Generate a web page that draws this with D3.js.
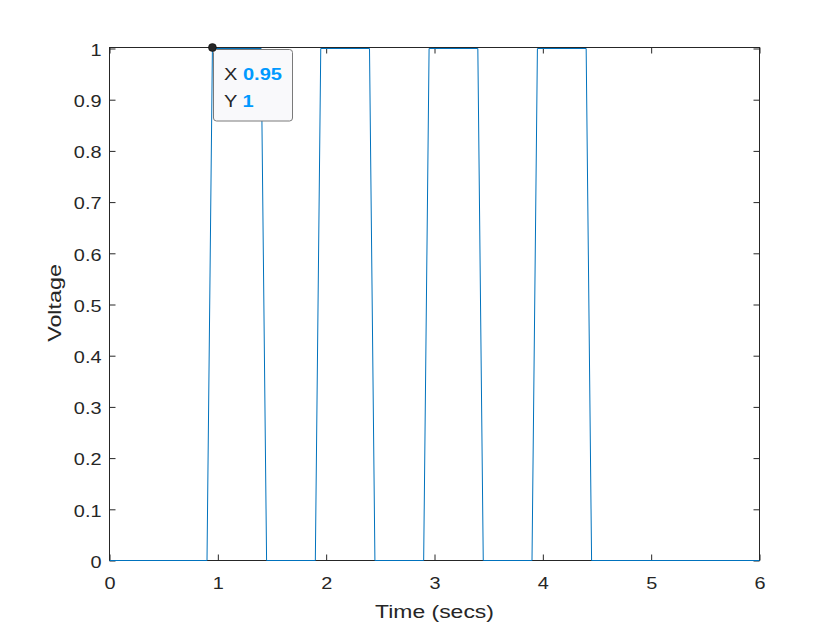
<!DOCTYPE html>
<html>
<head>
<meta charset="utf-8">
<script src="https://cdn.jsdelivr.net/npm/d3@7"></script>
<style>
  html, body { margin: 0; padding: 0; background: #ffffff; }
  svg { display: block; font-family: "Liberation Sans", Arial, Helvetica, sans-serif; }
</style>
</head>
<body>
<svg id="chart" width="840" height="630"></svg>
<script>
// ---- data ----
const timeSecs = [0, 0.9, 0.95, 1.4, 1.45, 1.9, 1.95, 2.4, 2.45, 2.9, 2.95, 3.4, 3.45, 3.9, 3.95, 4.4, 4.45, 6];
const voltage  = [0, 0,   1,    1,   0,    0,   1,    1,   0,    0,   1,    1,   0,    0,   1,    1,   0,    0];
const xTickValues = [0, 1, 2, 3, 4, 5, 6];
const yTickValues = [0, 0.1, 0.2, 0.3, 0.4, 0.5, 0.6, 0.7, 0.8, 0.9, 1];
const xLabel = "Time (secs)";
const yLabel = "Voltage";
const tipPoint = { x: 0.95, y: 1 };
const tipLabels = ["X", "Y"];
const tipValues = ["0.95", "1"];

// ---- layout ----
const svg = d3.select("#chart");
const L = 109.5, R = 759.5, T = 47.5, B = 560.5;
const x = d3.scaleLinear().domain([0, 6]).range([L, R]);
const y = d3.scaleLinear().domain([0, 1]).range([B, T + 1]);
const axisColor = "#262626";
const SX = 1.22; // horizontal glyph stretch

// box
svg.append("rect")
  .attr("x", L).attr("y", T).attr("width", R - L).attr("height", B - T)
  .attr("fill", "none").attr("stroke", axisColor).attr("stroke-width", 1);

// axes
function styleAxis(g, showLabels, anchorShift) {
  g.select(".domain").remove();
  g.selectAll(".tick line").attr("stroke", axisColor).attr("stroke-width", 1);
  if (!showLabels) { g.selectAll(".tick text").remove(); return; }
  g.selectAll(".tick text").each(function () {
    const t = d3.select(this);
    const tx = +t.attr("x") || 0, ty = +t.attr("y") || 0;
    t.attr("x", null).attr("y", null)
      .attr("transform", `translate(${tx},${ty}) scale(${SX},1)`)
      .attr("fill", axisColor).attr("font-size", 16.3)
      .attr("font-family", '"Liberation Sans", Arial, Helvetica, sans-serif');
  });
}
const fmt = d3.format("~g");

svg.append("g").attr("transform", `translate(0,${T})`)
  .call(d3.axisTop(x).tickValues(xTickValues).tickSize(-6))
  .call(g => styleAxis(g, false));
svg.append("g").attr("transform", `translate(${R},0)`)
  .call(d3.axisRight(y).tickValues(yTickValues).tickSize(-6))
  .call(g => styleAxis(g, false));
svg.append("g").attr("transform", `translate(0,${B})`)
  .call(d3.axisBottom(x).tickValues(xTickValues).tickFormat(fmt).tickSize(-6).tickPadding(16.5))
  .call(g => styleAxis(g, true));
const yAx = svg.append("g").attr("transform", `translate(${L},0)`)
  .call(d3.axisLeft(y).tickValues(yTickValues).tickFormat(fmt).tickSize(-6).tickPadding(8))
  .call(g => styleAxis(g, true));
yAx.selectAll(".tick text").attr("dy", "0.42em");

// line (drawn above the box, as in the reference)
const pts = timeSecs.map((t, i) => [t, voltage[i]]);
svg.append("path")
  .datum(pts)
  .attr("fill", "none")
  .attr("stroke", "#0072BD")
  .attr("stroke-width", 1)
  .attr("d", d3.line().x(d => x(d[0])).y(d => y(d[1])));

// axis labels
svg.append("text")
  .attr("transform", `translate(${(L + R) / 2},618) scale(1.24,1)`)
  .attr("text-anchor", "middle").attr("font-size", 18.5).attr("fill", axisColor)
  .text(xLabel);
svg.append("text")
  .attr("transform", `translate(61,303) rotate(-90) scale(1.26,1)`)
  .attr("text-anchor", "middle").attr("font-size", 18.5).attr("fill", axisColor)
  .text(yLabel);

// data tip
const px = x(tipPoint.x), py = y(tipPoint.y) - 1;
const tip = svg.append("g");
tip.append("rect")
  .attr("x", 213.5).attr("y", 49.5).attr("width", 79).attr("height", 71.5)
  .attr("rx", 3).attr("ry", 3)
  .attr("fill", "#f9f9fb").attr("stroke", "#7a7a7a").attr("stroke-width", 1);
tipLabels.forEach((lab, i) => {
  const t = tip.append("text")
    .attr("transform", `translate(224,${79.5 + i * 27.5}) scale(1.18,1)`)
    .attr("font-size", 17);
  t.append("tspan").attr("fill", "#262626").text(lab + " ");
  t.append("tspan").attr("fill", "#0099FF").attr("font-weight", "bold").text(tipValues[i]);
});
svg.append("circle")
  .attr("cx", px).attr("cy", py).attr("r", 4)
  .attr("fill", "#262626").attr("stroke", "#000").attr("stroke-width", 0.5);
</script>
</body>
</html>
